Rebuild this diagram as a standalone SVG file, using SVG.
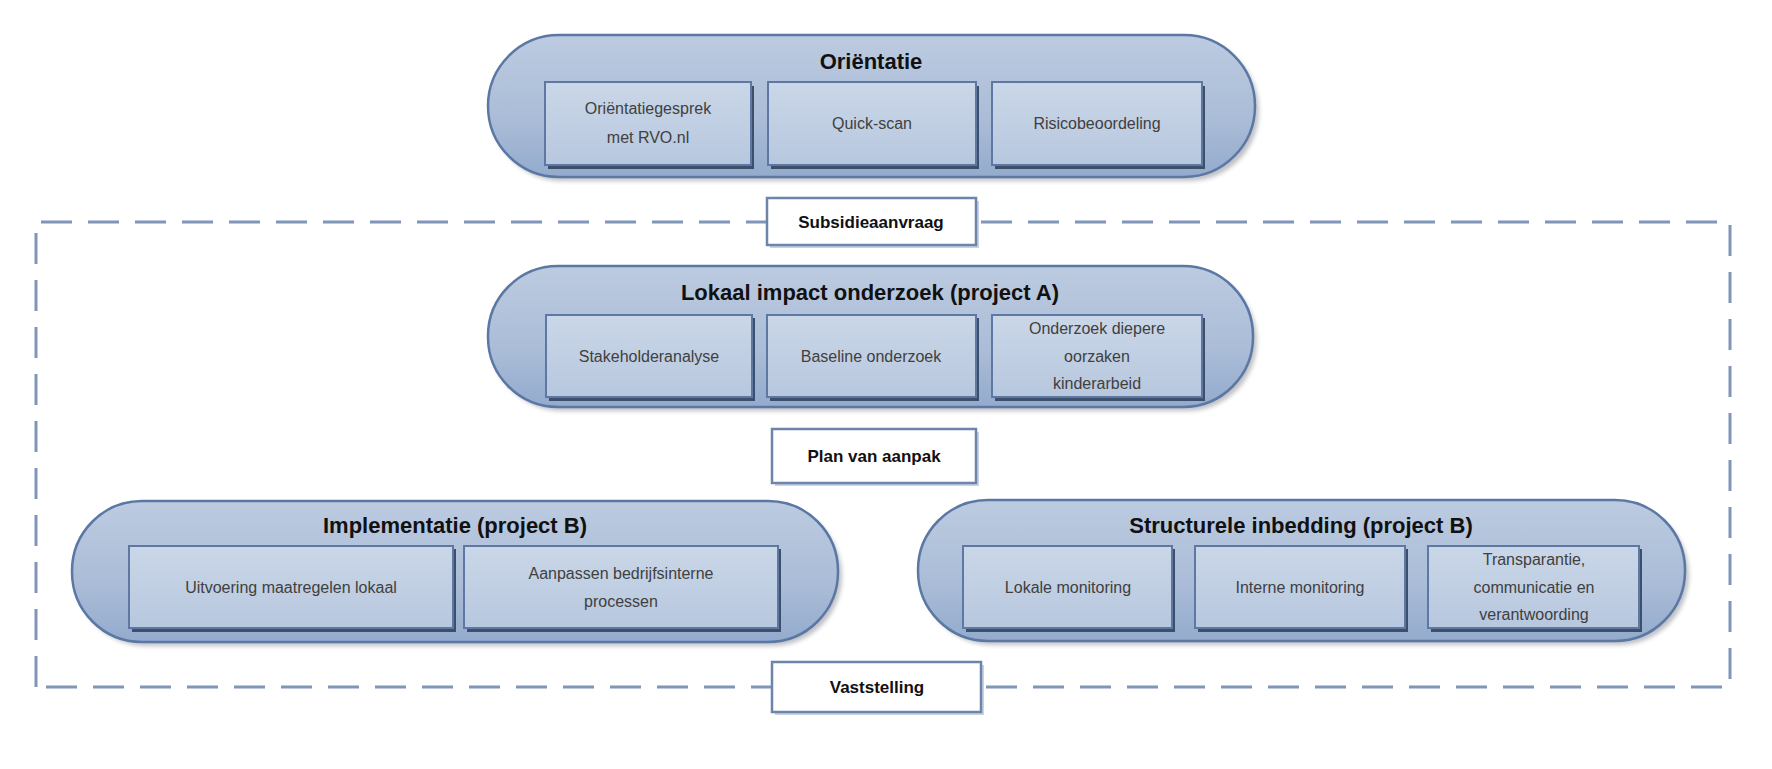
<svg xmlns="http://www.w3.org/2000/svg" width="1772" height="769" viewBox="0 0 1772 769">
<defs>
<linearGradient id="pillG" x1="0" y1="0" x2="0" y2="1">
<stop offset="0" stop-color="#bccbe0"/>
<stop offset="0.6" stop-color="#aabcd7"/>
<stop offset="1" stop-color="#93abcd"/>
</linearGradient>
<linearGradient id="boxG" x1="0" y1="0" x2="0" y2="1">
<stop offset="0" stop-color="#cad7e8"/>
<stop offset="1" stop-color="#b7c7de"/>
</linearGradient>
<filter id="sh" x="-5%" y="-10%" width="110%" height="130%">
<feGaussianBlur stdDeviation="2"/>
</filter>
<style>
.pill{fill:url(#pillG);stroke:#5b78a5;stroke-width:2.5}
.pshadow{fill:#8a8f98;opacity:0.55}
.box{fill:url(#boxG);stroke:#5d79a3;stroke-width:2}
.bshadow{fill:#3e4f6c}
.title{font-family:"Liberation Sans",Arial,sans-serif;font-weight:bold;font-size:22px;fill:#111;text-anchor:middle}
.inner{font-family:"Liberation Sans",Arial,sans-serif;font-size:16px;fill:#404040;text-anchor:middle}
.lab{fill:#fff;stroke:#6d85aa;stroke-width:2.5}
.labt{font-family:"Liberation Sans",Arial,sans-serif;font-weight:bold;font-size:17px;fill:#111;text-anchor:middle}
.dash{fill:none;stroke:#7f96b8;stroke-width:3;stroke-dasharray:31 16}
</style>
</defs>
<rect width="1772" height="769" fill="#fff"/>

<g id="connectors">
<path class="dash" d="M36 687 V222 H1730 V687 Z" stroke="#8ea3c2"/>
</g>

<g id="orientatie">
<rect class="pshadow" x="492" y="40" width="767" height="141" rx="70" filter="url(#sh)"/>
<rect class="pill" x="488" y="35" width="767" height="142" rx="71"/>
<text class="title" x="871" y="69">Oriëntatie</text>
<rect class="bshadow" x="548" y="86" width="206" height="83"/>
<rect class="box" x="545" y="82" width="206" height="83"/>
<text class="inner" x="648" y="114">Oriëntatiegesprek</text>
<text class="inner" x="648" y="143">met RVO.nl</text>
<rect class="bshadow" x="771" y="86" width="208" height="83"/>
<rect class="box" x="768" y="82" width="208" height="83"/>
<text class="inner" x="872" y="129">Quick-scan</text>
<rect class="bshadow" x="995" y="86" width="210" height="83"/>
<rect class="box" x="992" y="82" width="210" height="83"/>
<text class="inner" x="1097" y="129">Risicobeoordeling</text>
</g>

<g id="subsidieaanvraag">
<rect x="770" y="201" width="209" height="47" fill="#c8d2e0"/>
<rect class="lab" x="767" y="198" width="209" height="47"/>
<text class="labt" x="871" y="228">Subsidieaanvraag</text>
</g>

<g id="lokaal">
<rect class="pshadow" x="492" y="271" width="765" height="140" rx="70" filter="url(#sh)"/>
<rect class="pill" x="488" y="266" width="765" height="141" rx="70"/>
<text class="title" x="870" y="300">Lokaal impact onderzoek (project A)</text>
<rect class="bshadow" x="549" y="318" width="206" height="83"/>
<rect class="box" x="546" y="315" width="206" height="82"/>
<text class="inner" x="649" y="362">Stakeholderanalyse</text>
<rect class="bshadow" x="770" y="318" width="209" height="83"/>
<rect class="box" x="767" y="315" width="209" height="82"/>
<text class="inner" x="871" y="362">Baseline onderzoek</text>
<rect class="bshadow" x="995" y="318" width="210" height="83"/>
<rect class="box" x="992" y="315" width="210" height="82"/>
<text class="inner" x="1097" y="334">Onderzoek diepere</text>
<text class="inner" x="1097" y="362">oorzaken</text>
<text class="inner" x="1097" y="389">kinderarbeid</text>
</g>

<g id="plan-van-aanpak">
<rect x="775" y="432" width="204" height="54" fill="#c8d2e0"/>
<rect class="lab" x="772" y="429" width="204" height="54"/>
<text class="labt" x="874" y="462">Plan van aanpak</text>
</g>

<g id="implementatie">
<rect class="pshadow" x="76" y="506" width="766" height="140" rx="70" filter="url(#sh)"/>
<rect class="pill" x="72" y="501" width="766" height="141" rx="70"/>
<text class="title" x="455" y="533">Implementatie (project B)</text>
<rect class="bshadow" x="132" y="549" width="324" height="83"/>
<rect class="box" x="129" y="546" width="324" height="82"/>
<text class="inner" x="291" y="593">Uitvoering maatregelen lokaal</text>
<rect class="bshadow" x="467" y="549" width="314" height="83"/>
<rect class="box" x="464" y="546" width="314" height="82"/>
<text class="inner" x="621" y="579">Aanpassen bedrijfsinterne</text>
<text class="inner" x="621" y="607">processen</text>
</g>

<g id="structurele-inbedding">
<rect class="pshadow" x="922" y="505" width="767" height="140" rx="70" filter="url(#sh)"/>
<rect class="pill" x="918" y="500" width="767" height="141" rx="70"/>
<text class="title" x="1301" y="533">Structurele inbedding (project B)</text>
<rect class="bshadow" x="966" y="549" width="209" height="83"/>
<rect class="box" x="963" y="546" width="209" height="82"/>
<text class="inner" x="1068" y="593">Lokale monitoring</text>
<rect class="bshadow" x="1198" y="549" width="210" height="83"/>
<rect class="box" x="1195" y="546" width="210" height="82"/>
<text class="inner" x="1300" y="593">Interne monitoring</text>
<rect class="bshadow" x="1431" y="549" width="211" height="83"/>
<rect class="box" x="1428" y="546" width="211" height="82"/>
<text class="inner" x="1534" y="565">Transparantie,</text>
<text class="inner" x="1534" y="593">communicatie en</text>
<text class="inner" x="1534" y="620">verantwoording</text>
</g>

<g id="vaststelling">
<rect x="775" y="665" width="209" height="50" fill="#c8d2e0"/>
<rect class="lab" x="772" y="662" width="209" height="50"/>
<text class="labt" x="877" y="693">Vaststelling</text>
</g>
</svg>
